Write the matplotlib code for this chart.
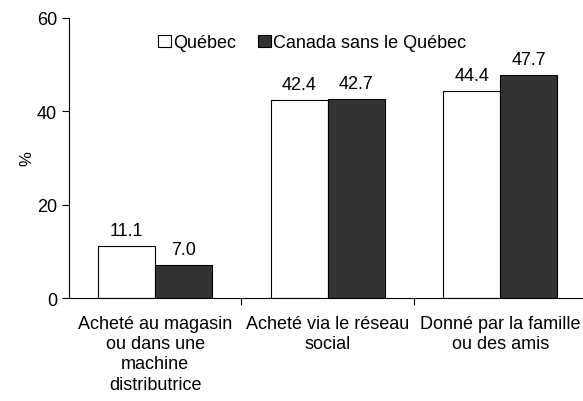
import numpy as np
import matplotlib.pyplot as plt

categories = ["Acheté au magasin\nou dans une\nmachine\ndistributrice",
              "Acheté via le réseau\nsocial",
              "Donné par la famille\nou des amis"]
quebec = [11.1, 42.4, 44.4]
canada_sans_qc = [7.0, 42.7, 47.7]
series_names = ["Québec", "Canada sans le Québec"]

plt.rcParams['font.family'] = ['Liberation Sans', 'DejaVu Sans']
plt.rcParams['font.size'] = 13

fig = plt.figure(figsize=(5.83, 4.02), dpi=100)
ax = fig.add_axes([0.118, 0.256, 0.888, 0.697])

x = np.arange(len(categories))
w = 0.33
b1 = ax.bar(x - w / 2, quebec, w, color='white', edgecolor='black', linewidth=0.8, label=series_names[0])
b2 = ax.bar(x + w / 2, canada_sans_qc, w, color='#333333', edgecolor='black', linewidth=0.8, label=series_names[1])

for bars, vals in ((b1, quebec), (b2, canada_sans_qc)):
    for rect, v in zip(bars, vals):
        ax.text(rect.get_x() + rect.get_width() / 2, v + 1.5, f"{v:.1f}",
                ha='center', va='bottom')

ax.set_xlim(-0.5, 2.5)
ax.set_ylim(0, 60)
ax.set_yticks([0, 20, 40, 60])
ax.set_xticks([0.5, 1.5], minor=False)
ax.set_xticklabels([])
ax.set_xticks(x, minor=True)
ax.set_xticklabels(categories, minor=True, linespacing=1.25)
ax.tick_params(axis='x', which='minor', length=0, pad=12)
ax.tick_params(axis='x', which='major', length=5, direction='out')
ax.tick_params(axis='y', length=5, direction='out')
for lab in ax.get_xticklabels(minor=True):
    lab.set_multialignment('center')

ax.spines['top'].set_visible(False)
ax.spines['right'].set_visible(False)
ax.set_ylabel('%', labelpad=2, fontsize=12)

ax.legend(loc='upper center', bbox_to_anchor=(0.47, 1.0), ncol=2, frameon=False,
          handlelength=0.7, handleheight=0.7, handletextpad=0.15, columnspacing=1.2)

fig.savefig('out.png', dpi=100)
